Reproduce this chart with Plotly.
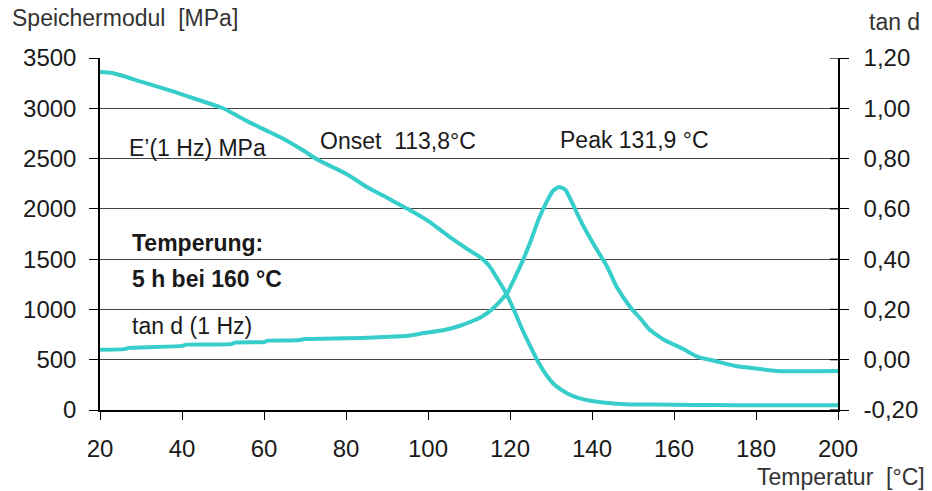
import plotly.graph_objects as go

# ---- data ----
temp_e = [20, 23, 30, 38, 45, 50, 56, 60, 65, 70, 73, 80, 85, 90, 95, 100, 105, 110, 113, 115,
          117, 119, 121, 123, 125, 127, 129, 131, 134, 137, 140, 144, 148, 155, 165, 175, 185, 200]
e_mod = [3360, 3350, 3265, 3165, 3070, 3000, 2870, 2790, 2690, 2570, 2490, 2350, 2220, 2110, 2000,
         1880, 1730, 1590, 1510, 1430, 1300, 1165, 990, 800, 630, 470, 340, 245, 165, 115, 90, 70,
         58, 55, 50, 48, 47, 48]

temp_t = [20, 26, 27, 40, 41, 52, 53, 60, 61, 68, 70, 80, 88, 95, 99, 104, 108, 111, 113, 116, 118,
          119.3, 121, 123, 125, 127, 129, 130.5, 132, 133.5, 135, 137, 140, 143.7, 146, 149.3, 152,
          154, 158, 162, 166, 170, 175, 180, 185, 200]
tan_d = [0.040, 0.042, 0.047, 0.055, 0.060, 0.062, 0.068, 0.070, 0.076, 0.077, 0.082, 0.085, 0.089,
         0.095, 0.106, 0.118, 0.136, 0.155, 0.170, 0.206, 0.240, 0.265, 0.320, 0.390, 0.470, 0.560,
         0.630, 0.672, 0.687, 0.676, 0.630, 0.560, 0.470, 0.370, 0.290, 0.210, 0.160, 0.120, 0.075,
         0.045, 0.010, -0.005, -0.025, -0.035, -0.045, -0.045]

x_ticks = [20, 40, 60, 80, 100, 120, 140, 160, 180, 200]
y_ticks = [0, 500, 1000, 1500, 2000, 2500, 3000, 3500]
y2_ticks = [-0.2, 0.0, 0.2, 0.4, 0.6, 0.8, 1.0, 1.2]
y2_labels = ["-0,20", "0,00", "0,20", "0,40", "0,60", "0,80", "1,00", "1,20"]

COLOR = "#36CDCB"
FONT = "Liberation Sans, Arial, sans-serif"
TXT = "#1a1a1a"

fig = go.Figure()
fig.add_trace(go.Scatter(x=temp_e, y=e_mod, mode="lines",
                         line=dict(color=COLOR, width=4, shape="spline", smoothing=0.7),
                         yaxis="y", showlegend=False))
fig.add_trace(go.Scatter(x=temp_t, y=tan_d, mode="lines",
                         line=dict(color=COLOR, width=4, shape="spline", smoothing=0.5),
                         yaxis="y2", showlegend=False))

fig.update_layout(
    width=932, height=491,
    margin=dict(l=100, r=94, t=58, b=81),
    paper_bgcolor="white", plot_bgcolor="white",
    font=dict(family=FONT, size=24, color=TXT),
    xaxis=dict(range=[20, 200], tickvals=x_ticks, ticktext=[str(v) for v in x_ticks],
               showgrid=False, zeroline=False, showline=True, linecolor="black", linewidth=1.5,
               ticks="outside", ticklen=8, tickcolor="black", tickwidth=1.2,
               tickfont=dict(size=24, color=TXT), ticklabelstandoff=8),
    yaxis=dict(range=[0, 3500], tickvals=y_ticks, ticktext=[str(v) for v in y_ticks],
               showgrid=True, gridcolor="#444", gridwidth=1, zeroline=False,
               showline=True, linecolor="black", linewidth=1.5,
               ticks="outside", ticklen=9, tickcolor="black", tickwidth=1.2,
               tickfont=dict(size=24, color=TXT), ticklabelstandoff=8),
    yaxis2=dict(range=[-0.2, 1.2], tickvals=y2_ticks, ticktext=y2_labels, overlaying="y",
                side="right", showgrid=False, zeroline=False,
                showline=True, linecolor="black", linewidth=1.5,
                ticks="outside", ticklen=9, tickcolor="black", tickwidth=1.2,
                tickfont=dict(size=24, color=TXT), ticklabelstandoff=10),
)

# inner half of crossing ticks on the right axis
for v in y2_ticks:
    fig.add_shape(type="line", xref="paper", yref="y2", x0=1 - 8 / 738, x1=1, y0=v, y1=v,
                  line=dict(color="black", width=1.2))

ann = [
    dict(text="E’(1 Hz) MPa", x=26.6, y=2605),
    dict(text="Onset  113,8°C", x=73.2, y=2675),
    dict(text="Peak 131,9 °C", x=131.7, y=2685),
    dict(text="<b>Temperung:</b>", x=27.3, y=1660),
    dict(text="<b>5 h bei 160 °C</b>", x=27.3, y=1303),
    dict(text="tan d (1 Hz)", x=27.3, y=835),
]
for a in ann:
    fig.add_annotation(text=a["text"], x=a["x"], y=a["y"], xref="x", yref="y",
                       xanchor="left", yanchor="middle", showarrow=False,
                       font=dict(size=23, color=TXT, family=FONT))

fig.add_annotation(text="Speichermodul  [MPa]", xref="paper", yref="paper", x=-0.122, y=1.1136,
                   xanchor="left", yanchor="middle", showarrow=False,
                   font=dict(size=23, color="#333", family=FONT))
fig.add_annotation(text="tan d", xref="paper", yref="paper", x=1.0393, y=1.102,
                   xanchor="left", yanchor="middle", showarrow=False,
                   font=dict(size=23, color="#333", family=FONT))
fig.add_annotation(text="Temperatur  [°C]", xref="paper", yref="paper", x=1.1206, y=-0.190,
                   xanchor="right", yanchor="middle", showarrow=False,
                   font=dict(size=23, color="#333", family=FONT))

fig.write_html("out.html")
